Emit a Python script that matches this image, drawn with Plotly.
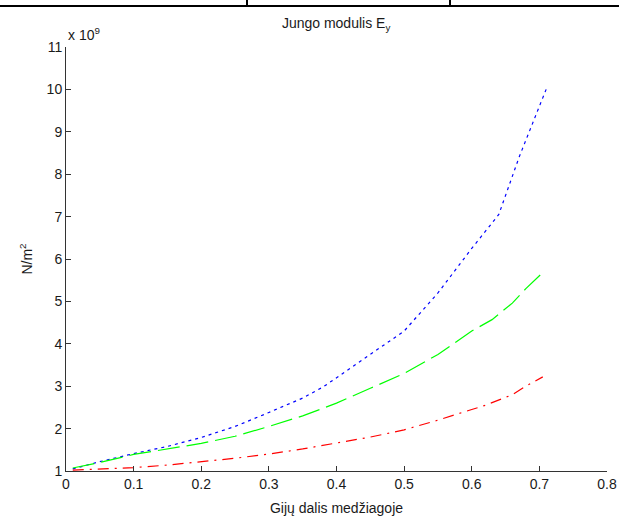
import plotly.graph_objects as go

# Fibre volume fraction and Young's modulus E_y (in units of 10^9 N/m^2)
x_blue = [0.01, 0.05, 0.10, 0.15, 0.20, 0.25, 0.30, 0.35, 0.38, 0.42, 0.45, 0.50,
          0.55, 0.60, 0.64, 0.67, 0.69, 0.71]
e_blue = [1.05, 1.22, 1.41, 1.58, 1.79, 2.05, 2.38, 2.72, 2.98, 3.41, 3.75, 4.30,
          5.20, 6.25, 7.05, 8.40, 9.20, 10.00]

x_green = [0.01, 0.05, 0.10, 0.15, 0.20, 0.25, 0.30, 0.35, 0.40, 0.45, 0.50, 0.55,
           0.58, 0.60, 0.63, 0.64, 0.66, 0.68, 0.705]
e_green = [1.07, 1.20, 1.39, 1.52, 1.65, 1.82, 2.05, 2.30, 2.60, 2.95, 3.30, 3.75,
           4.08, 4.30, 4.57, 4.70, 4.96, 5.30, 5.68]

x_red = [0.01, 0.05, 0.10, 0.15, 0.20, 0.25, 0.30, 0.35, 0.40, 0.45, 0.50, 0.55,
         0.60, 0.62, 0.66, 0.68, 0.705]
e_red = [1.02, 1.05, 1.08, 1.14, 1.22, 1.30, 1.40, 1.52, 1.66, 1.80, 1.97, 2.20,
         2.45, 2.55, 2.80, 3.00, 3.22]

x_ticks = [0, 0.1, 0.2, 0.3, 0.4, 0.5, 0.6, 0.7, 0.8]
x_tick_text = ["0", "0.1", "0.2", "0.3", "0.4", "0.5", "0.6", "0.7", "0.8"]
y_ticks = [1, 2, 3, 4, 5, 6, 7, 8, 9, 10, 11]

FONT = "Liberation Sans, Arial, sans-serif"
TEXT_COLOR = "#1a1a1a"

fig = go.Figure()
fig.add_trace(go.Scatter(x=x_blue, y=e_blue, mode="lines",
                         line=dict(color="#0000FF", width=1.2, dash="3px,4px")))
fig.add_trace(go.Scatter(x=x_green, y=e_green, mode="lines",
                         line=dict(color="#00FF00", width=1.2, dash="22px,7px")))
fig.add_trace(go.Scatter(x=x_red, y=e_red, mode="lines",
                         line=dict(color="#FF0000", width=1.2, dash="11px,6px,2px,6px")))

axis_common = dict(showgrid=False, zeroline=False, showline=True, linecolor="#333333",
                   linewidth=1, mirror=False, ticks="inside", ticklen=5, automargin=False,
                   tickcolor="#333333", tickfont=dict(family=FONT, size=14, color=TEXT_COLOR))

fig.update_xaxes(range=[0, 0.8], tickvals=x_ticks, ticktext=x_tick_text,
                 title=dict(text="Gijų dalis medžiagoje", standoff=12,
                            font=dict(family=FONT, size=14, color=TEXT_COLOR)),
                 **axis_common)
fig.update_yaxes(range=[1, 11], tickvals=y_ticks,
                 title=dict(text="N/m<sup>2</sup>", standoff=10,
                            font=dict(family=FONT, size=14, color=TEXT_COLOR)),
                 **axis_common)

fig.update_layout(
    width=619, height=518,
    margin=dict(l=66, r=12, t=47, b=47),
    paper_bgcolor="white", plot_bgcolor="white",
    showlegend=False,
    title=dict(text="Jungo modulis E<sub>y</sub>", x=0.543, xanchor="center",
               y=1 - 23 / 518, yanchor="middle",
               font=dict(family=FONT, size=14, color=TEXT_COLOR)),
    annotations=[dict(text="x 10<sup>9</sup>", xref="paper", yref="paper",
                      x=0.0, y=1.0, xanchor="left", yanchor="bottom", yshift=2,
                      showarrow=False, font=dict(family=FONT, size=14, color=TEXT_COLOR))],
    shapes=[
        dict(type="line", xref="paper", yref="paper", x0=-0.13, x1=1.03,
             y0=1 + 41 / 424, y1=1 + 41 / 424, line=dict(color="black", width=2)),
        dict(type="line", xref="paper", yref="paper", x0=(247 - 66) / 541, x1=(247 - 66) / 541,
             y0=1 + 41 / 424, y1=1.2, line=dict(color="black", width=2)),
        dict(type="line", xref="paper", yref="paper", x0=(450 - 66) / 541, x1=(450 - 66) / 541,
             y0=1 + 41 / 424, y1=1.2, line=dict(color="black", width=2)),
    ],
)

fig.write_html("out.html")
